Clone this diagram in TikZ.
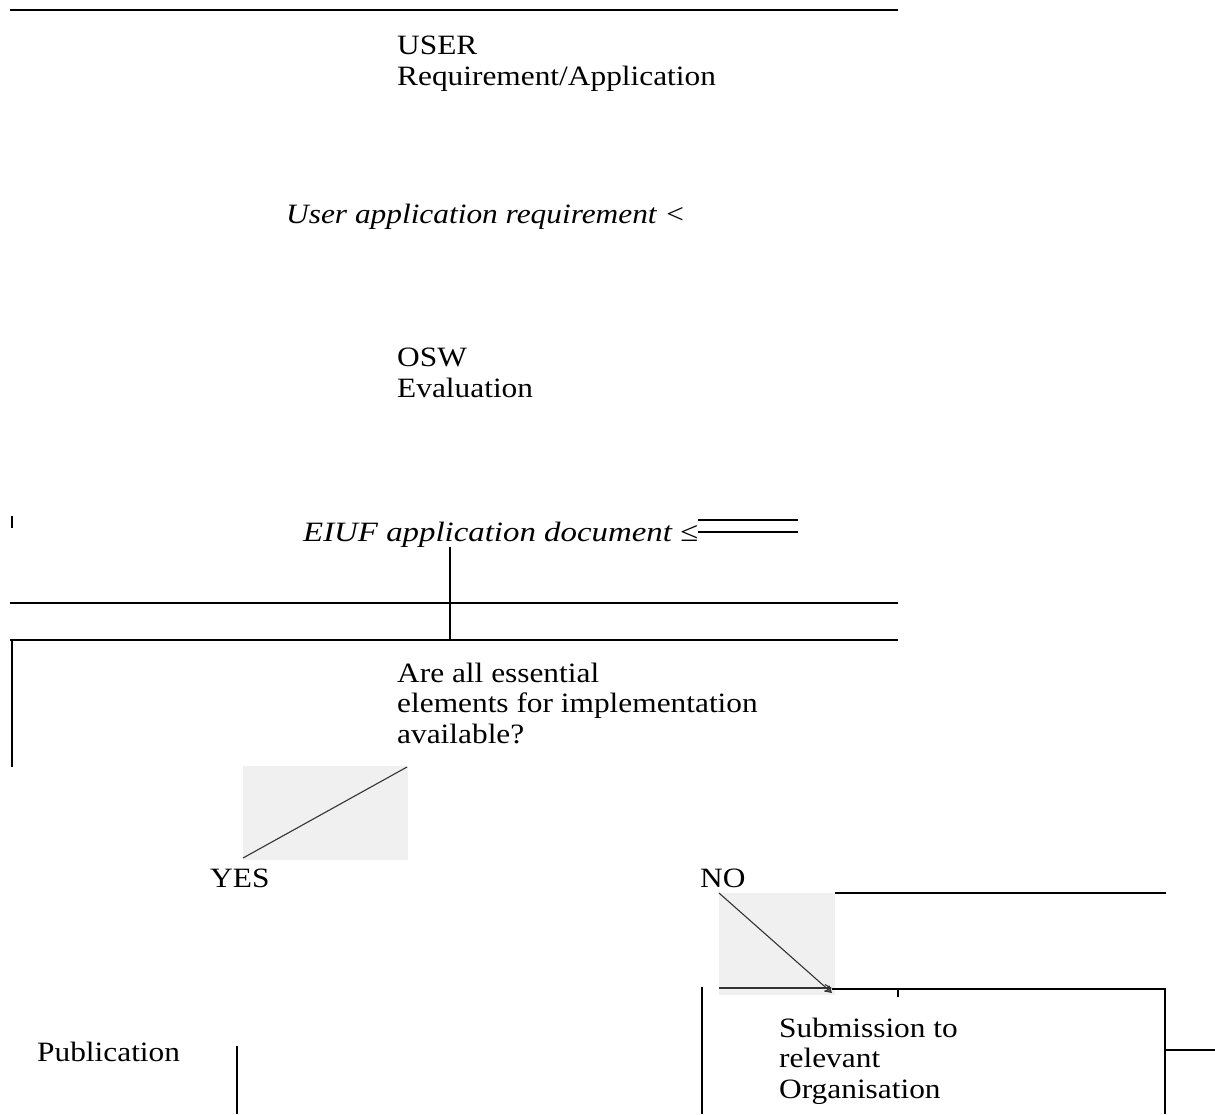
\documentclass[tikz,border=0pt]{standalone}
\usepackage{graphicx}
\usepackage{fontspec}
\setmainfont{Liberation Serif}[FakeStretch=1.12]
\usetikzlibrary{arrows.meta}
\begin{document}
\begin{tikzpicture}[x=1pt,y=-1pt,
  lbl/.style={inner sep=0pt, anchor=base west, align=left, font=\fontsize{28}{30.5}\selectfont},
  ital/.style={lbl, font=\fontsize{28}{30.5}\selectfont\itshape},
  ln/.style={line width=1.5pt, black},
  heavy/.style={line width=2.8pt, black},
  sketch/.style={line width=1.1pt, black!80},
  sketcharrow/.style={sketch, -{Straight Barb[length=6pt,width=7pt]}},
  photo/.style={fill=black!6, draw=none}]
\useasboundingbox (0,0) rectangle (1215,1114);

% texts (base anchor = baseline of the last line)
\node[lbl]  (user) at (397,85)  {USER\\Requirement/Application};
\node[ital] (uar)  at (286,223) {User application requirement <};
\node[lbl]  (osw)  at (397,397) {OSW\\Evaluation};
\node[ital] (eiuf) at (303,541) {\scalebox{1.048}[1]{EIUF application document ≤}};
\node[lbl]  (q)    at (397,743) {Are all essential\\elements for implementation\\available?};
\node[lbl]  (yes)  at (210,887) {YES};
\node[lbl]  (no)   at (700,887) {NO};
\node[lbl]  (pub)  at (37,1061) {Publication};
\node[lbl]  (sub)  at (779,1098) {Submission to\\relevant\\Organisation};

% coordinates
\coordinate (tA) at (10,10);    \coordinate (tB) at (898,10);
\coordinate (k1) at (12,516);   \coordinate (k2) at (12,528);
\coordinate (dA1) at (698,520); \coordinate (dB1) at (798,520);
\coordinate (dA2) at (698,532); \coordinate (dB2) at (798,532);
\coordinate (vA) at (450,547);  \coordinate (vB) at (450,640);
\coordinate (hA1) at (10,603);  \coordinate (hB1) at (898,603);
\coordinate (hA2) at (10,640);  \coordinate (hB2) at (898,640);
\coordinate (lA) at (12,640);   \coordinate (lB) at (12,767);
\coordinate (yA) at (243,858);  \coordinate (yB) at (407,767);
\coordinate (nA) at (719,893);  \coordinate (nB) at (832,993);
\coordinate (nC) at (719,988);  \coordinate (nD) at (832,988);
\coordinate (rA) at (835,893);  \coordinate (rB) at (1166,893);
\coordinate (bA) at (832,989);  \coordinate (bB) at (1165,989);
\coordinate (bC) at (1165,1114);
\coordinate (bL1) at (702,987); \coordinate (bL2) at (702,1114);
\coordinate (tk1) at (898,989); \coordinate (tk2) at (898,997);
\coordinate (sA) at (1165,1050); \coordinate (sB) at (1215,1050);
\coordinate (pA) at (237,1046); \coordinate (pB) at (237,1114);

% pasted sketch images
\fill[photo] (243,766) rectangle (408,860);
\fill[photo] (719,893) rectangle (835,995);
\draw[sketch] (yA) -- (yB);
\draw[sketcharrow] (nA) -- (nB);
\draw[sketcharrow] (nC) -- (nD);

% rules
\draw[heavy] (tA) -- (tB);
\draw[ln] (k1) -- (k2);
\draw[ln] (dA1) -- (dB1);
\draw[ln] (dA2) -- (dB2);
\draw[ln] (vA) -- (vB);
\draw[ln] (hA1) -- (hB1);
\draw[ln] (hA2) -- (hB2);
\draw[ln] (lA) -- (lB);
\draw[ln] (rA) -- (rB);
\draw[ln] (bA) -- (bB) -- (bC);
\draw[ln] (bL1) -- (bL2);
\draw[ln] (tk1) -- (tk2);
\draw[ln] (sA) -- (sB);
\draw[ln] (pA) -- (pB);
\end{tikzpicture}
\end{document}
